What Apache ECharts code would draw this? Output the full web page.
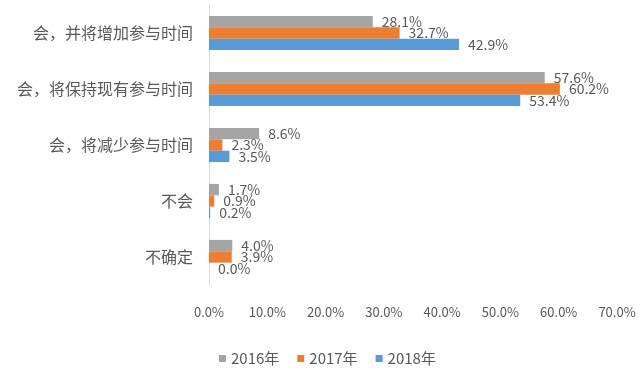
<!DOCTYPE html>
<html><head><meta charset="utf-8">
<script src="https://cdn.jsdelivr.net/npm/echarts@6/dist/echarts.min.js"></script>
<style>html,body{margin:0;padding:0;background:#fff}#c{width:640px;height:373px}</style>
</head><body><div id="c"></div>
<script>
const categories = ['会，并将增加参与时间','会，将保持现有参与时间','会，将减少参与时间','不会','不确定'];
const seriesNames = ['2016年','2017年','2018年'];
const v2016 = [28.1, 57.6, 8.6, 1.7, 4.0];
const v2017 = [32.7, 60.2, 2.3, 0.9, 3.9];
const v2018 = [42.9, 53.4, 3.5, 0.2, 0.0];
const colors = ['#A5A5A5','#ED7D31','#5B9BD5'];
const font = '"Noto Sans CJK SC", "Noto Sans", sans-serif';
const chart = echarts.init(document.getElementById('c'));
const data = [v2016, v2017, v2018];
chart.setOption({
  animation: false,
  textStyle: {fontFamily: font},
  grid: {left: 209, right: 23, top: 5, bottom: 88, containLabel: false},
  legend: {top: 346, left: 214, itemWidth: 7, itemHeight: 7, itemGap: 18, icon: 'rect',
    textStyle: {color: '#595959', fontSize: 15, fontFamily: font}, data: seriesNames},
  xAxis: {type: 'value', min: 0, max: 70, interval: 10,
    axisLabel: {formatter: v => v.toFixed(1) + '%', color: '#595959', fontSize: 13, margin: 21, fontFamily: font},
    axisLine: {show: false}, axisTick: {show: false}, splitLine: {show: false}},
  yAxis: {type: 'category', inverse: true, data: categories,
    axisLine: {show: true, lineStyle: {color: '#D9D9D9'}}, axisTick: {show: false},
    axisLabel: {color: '#595959', fontSize: 16, margin: 16, fontFamily: font}},
  series: seriesNames.map((n, i) => ({
    name: n, type: 'bar', data: data[i], barGap: '0%', barCategoryGap: '39%',
    itemStyle: {color: colors[i]},
    label: {show: true, position: 'right', distance: 9, formatter: p => p.value.toFixed(1) + '%',
      color: '#595959', fontSize: 14, fontFamily: font}
  }))
});
</script></body></html>
